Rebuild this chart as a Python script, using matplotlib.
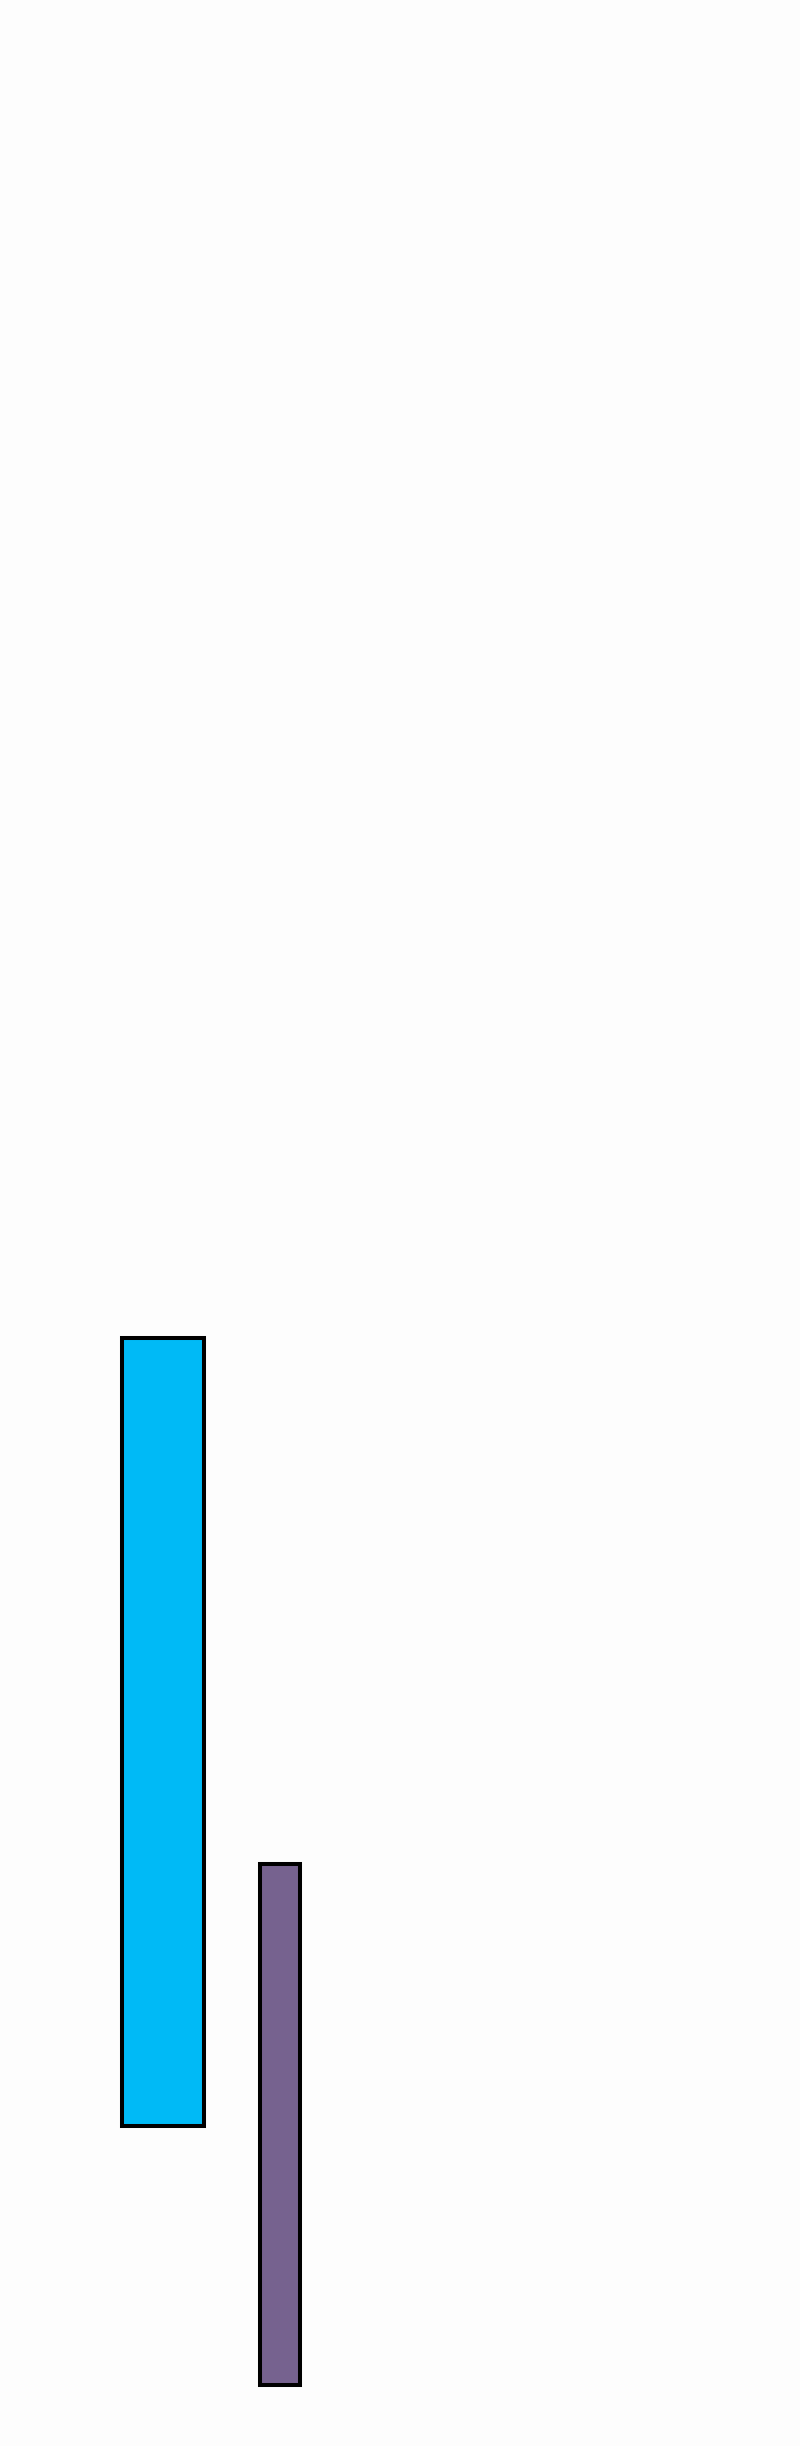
import matplotlib
matplotlib.use("Agg")
import matplotlib.pyplot as plt

# floating bars: each bar runs from low to high
categories = ["A", "B"]
lows = [13.1, 2.5]
highs = [45.3, 23.8]
colors = ["#00BAF6", "#76628F"]
widths = [0.70, 0.345]

fig = plt.figure(figsize=(8, 24.46), dpi=100)
fig.patch.set_facecolor("#fdfdfd")
ax = fig.add_axes([0, 0, 1, 1])
ax.set_facecolor("#fdfdfd")

heights = [h - l for h, l in zip(highs, lows)]
ax.bar(range(len(categories)), heights, bottom=lows, width=widths,
       color=colors, edgecolor="black", linewidth=2.9)

ax.set_xlim(-1.393, 5.444)
ax.set_ylim(0, 100)
ax.axis("off")

fig.savefig("out.png", dpi=100, facecolor=fig.get_facecolor())
